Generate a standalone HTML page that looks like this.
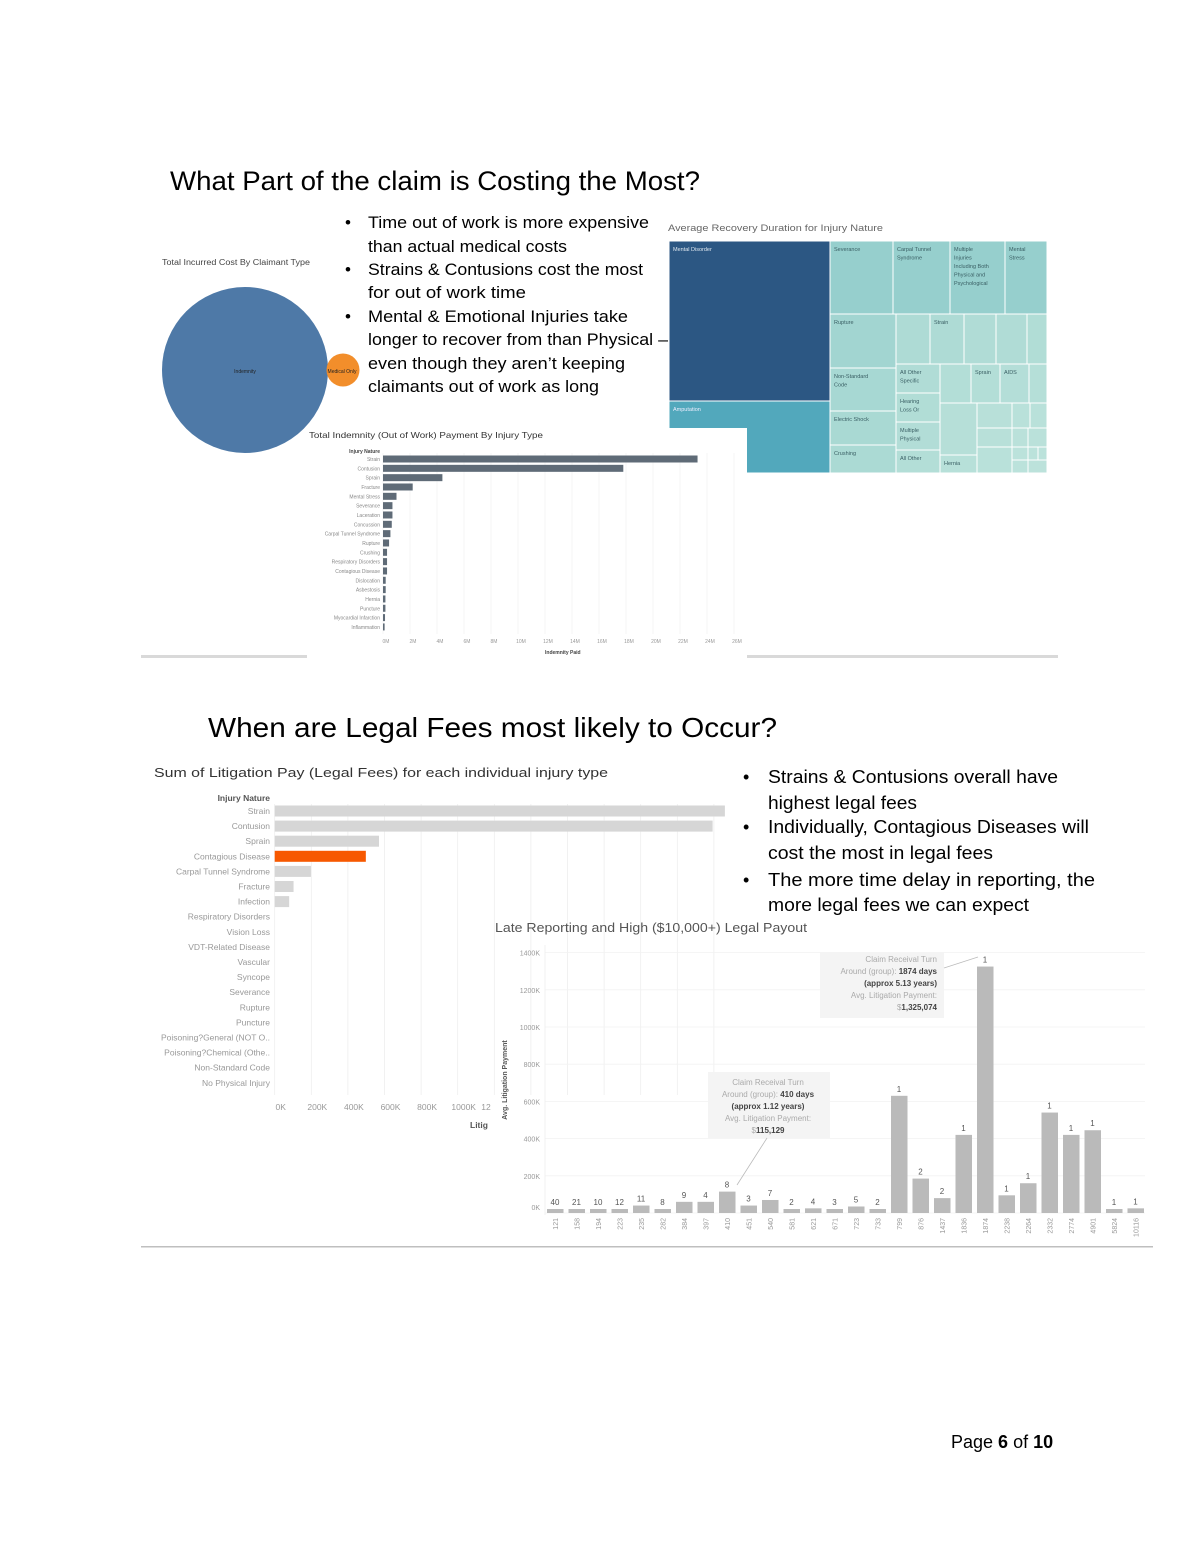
<!DOCTYPE html>
<html><head><meta charset="utf-8"><style>
html,body{margin:0;padding:0;background:#fff;}
svg{display:block;font-family:"Liberation Sans",sans-serif;}
</style></head><body>
<svg id="page" width="1199" height="1551" viewBox="0 0 1199 1551" xmlns="http://www.w3.org/2000/svg">
<rect width="1199" height="1551" fill="#fff"/>
<text x="170" y="190" font-size="27" fill="#000" textLength="530" lengthAdjust="spacingAndGlyphs">What Part of the claim is Costing the Most?</text>
<g font-size="17" fill="#000">
<text x="345" y="228">•</text><text x="368" y="228" textLength="281" lengthAdjust="spacingAndGlyphs">Time out of work is more expensive</text>
<text x="368" y="252" textLength="199" lengthAdjust="spacingAndGlyphs">than actual medical costs</text>
<text x="345" y="275">•</text><text x="368" y="275" textLength="275" lengthAdjust="spacingAndGlyphs">Strains &amp; Contusions cost the most</text>
<text x="368" y="298" textLength="158" lengthAdjust="spacingAndGlyphs">for out of work time</text>
<text x="345" y="322">•</text><text x="368" y="322" textLength="260" lengthAdjust="spacingAndGlyphs">Mental &amp; Emotional Injuries take</text>
<text x="368" y="345" textLength="300" lengthAdjust="spacingAndGlyphs">longer to recover from than Physical –</text>
<text x="368" y="369" textLength="257" lengthAdjust="spacingAndGlyphs">even though they aren’t keeping</text>
<text x="368" y="392" textLength="231" lengthAdjust="spacingAndGlyphs">claimants out of work as long</text>
</g>
<g>
<text x="162" y="265" font-size="8" fill="#444" textLength="148" lengthAdjust="spacingAndGlyphs">Total Incurred Cost By Claimant Type</text>
<circle cx="245" cy="370" r="83" fill="#4e79a7"/>
<circle cx="343" cy="370" r="16.5" fill="#f28e2b"/>
<text x="245" y="373" font-size="5" fill="#222" text-anchor="middle">Indemnity</text>
<text x="342" y="373" font-size="5" fill="#222" text-anchor="middle">Medical Only</text>
</g>
<g>
<text x="668" y="231" font-size="9.5" fill="#666" textLength="215" lengthAdjust="spacingAndGlyphs">Average Recovery Duration for Injury Nature</text>
<g id="tm" stroke="#fff" stroke-width="1" font-size="5.5"></g>
</g>
<g>
<rect x="307" y="428" width="440" height="232" fill="#fff"/>
<text x="309" y="438" font-size="8.5" fill="#333" textLength="234" lengthAdjust="spacingAndGlyphs">Total Indemnity (Out of Work) Payment By Injury Type</text>
<text x="380" y="453" font-size="5" fill="#444" text-anchor="end" font-weight="bold">Injury Nature</text>
<g id="ind"></g>
<text x="545" y="654" font-size="5" fill="#444" font-weight="bold">Indemnity Paid</text>
</g>
<rect x="141" y="655" width="166" height="3" fill="#d9d9d9"/>
<rect x="747" y="655" width="311" height="3" fill="#d9d9d9"/>
<text x="208" y="737" font-size="28" fill="#000" textLength="569" lengthAdjust="spacingAndGlyphs">When are Legal Fees most likely to Occur?</text>
<g font-size="18" fill="#000">
<text x="743" y="783">•</text><text x="768" y="783" textLength="290" lengthAdjust="spacingAndGlyphs">Strains &amp; Contusions overall have</text>
<text x="768" y="809" textLength="149" lengthAdjust="spacingAndGlyphs">highest legal fees</text>
<text x="743" y="833">•</text><text x="768" y="833" textLength="321" lengthAdjust="spacingAndGlyphs">Individually, Contagious Diseases will</text>
<text x="768" y="859" textLength="225" lengthAdjust="spacingAndGlyphs">cost the most in legal fees</text>
<text x="743" y="886">•</text><text x="768" y="886" textLength="327" lengthAdjust="spacingAndGlyphs">The more time delay in reporting, the</text>
<text x="768" y="911" textLength="261" lengthAdjust="spacingAndGlyphs">more legal fees we can expect</text>
</g>
<g>
<text x="154" y="777" font-size="13" fill="#333" textLength="454" lengthAdjust="spacingAndGlyphs">Sum of Litigation Pay (Legal Fees) for each individual injury type</text>
<text x="270" y="801" font-size="8.5" fill="#555" font-weight="bold" text-anchor="end">Injury Nature</text>
<g id="lit"></g>
<text x="470" y="1128" font-size="8.5" fill="#555" font-weight="bold">Litig</text>
</g>
<g>
<text x="495" y="932" font-size="13" fill="#555" textLength="312" lengthAdjust="spacingAndGlyphs">Late Reporting and High ($10,000+) Legal Payout</text>
<text transform="translate(507,1080) rotate(-90)" font-size="7" fill="#555" font-weight="bold" text-anchor="middle">Avg. Litigation Payment</text>
<g id="late"></g>
<g>
<rect x="820" y="952" width="124" height="66" fill="#f4f4f4"/>
<line x1="944" y1="968" x2="978" y2="957" stroke="#bbb" stroke-width="0.8"/>
<g font-size="8" text-anchor="end">
<text x="937" y="962" fill="#aaa">Claim Receival Turn</text>
<text x="937" y="974" fill="#aaa">Around (group): <tspan fill="#444" font-weight="bold">1874 days</tspan></text>
<text x="937" y="986" fill="#444" font-weight="bold">(approx 5.13 years)</text>
<text x="937" y="998" fill="#aaa">Avg. Litigation Payment:</text>
<text x="937" y="1010" fill="#444" font-weight="bold"><tspan fill="#aaa" font-weight="normal">$</tspan>1,325,074</text>
</g></g>
<g>
<rect x="708" y="1072" width="122" height="66" fill="#f4f4f4"/>
<line x1="767" y1="1138" x2="737" y2="1185" stroke="#bbb" stroke-width="0.8"/>
<g font-size="8" text-anchor="middle">
<text x="768" y="1085" fill="#aaa">Claim Receival Turn</text>
<text x="768" y="1097" fill="#aaa">Around (group): <tspan fill="#444" font-weight="bold">410 days</tspan></text>
<text x="768" y="1109" fill="#444" font-weight="bold">(approx 1.12 years)</text>
<text x="768" y="1121" fill="#aaa">Avg. Litigation Payment:</text>
<text x="768" y="1133" fill="#444" font-weight="bold"><tspan fill="#aaa" font-weight="normal">$</tspan>115,129</text>
</g></g>
</g>
<rect x="141" y="1246" width="1012" height="1.5" fill="#bfbfbf"/>
<text x="951" y="1448" font-size="18" fill="#000">Page <tspan font-weight="bold">6</tspan> of <tspan font-weight="bold">10</tspan></text>
</svg>
<script>
const indCats = ["Strain","Contusion","Sprain","Fracture","Mental Stress","Severance","Laceration","Concussion","Carpal Tunnel Syndrome","Rupture","Crushing","Respiratory Disorders","Contagious Disease","Dislocation","Asbestosis","Hernia","Puncture","Myocardial Infarction","Inflammation"];
const indVals = [23.3,17.8,4.4,2.2,1.0,0.7,0.7,0.65,0.55,0.45,0.3,0.3,0.3,0.2,0.2,0.18,0.18,0.15,0.12];
const indTicks = [0,2,4,6,8,10,12,14,16,18,20,22,24,26];
const litCats = ["Strain","Contusion","Sprain","Contagious Disease","Carpal Tunnel Syndrome","Fracture","Infection","Respiratory Disorders","Vision Loss","VDT-Related Disease","Vascular","Syncope","Severance","Rupture","Puncture","Poisoning?General (NOT O..","Poisoning?Chemical (Othe..","Non-Standard Code","No Physical Injury"];
const litVals = [2460,2393,570,498,198,103,79,0,0,0,0,0,0,0,0,0,0,0,0];
const litTicks = [0,200,400,600,800,1000];
const lateCats = ["121","158","194","223","235","282","384","397","410","451","540","581","621","671","723","733","799","876","1437","1836","1874","2238","2264","2332","2774","4901","5824","10116"];
const lateVals = [15,20,15,20,40,15,60,60,115,40,70,15,25,15,35,10,630,185,80,420,1325,95,160,540,420,445,15,25];
const lateCounts = [40,21,10,12,11,8,9,4,8,3,7,2,4,3,5,2,1,2,2,1,1,1,1,1,1,1,1,1];
const lateTicks = [0,200,400,600,800,1000,1200,1400];

const NS="http://www.w3.org/2000/svg";
function mk(tag,attrs,parent,text){const e=document.createElementNS(NS,tag);for(const k in attrs)e.setAttribute(k,attrs[k]);if(text!==undefined)e.textContent=text;parent.appendChild(e);return e;}

(function(){
  const g=document.getElementById('ind');
  const x=v=>383+v*13.5, y=i=>459+i*9.33;
  indTicks.forEach(t=>{
    const l=mk('line',{x1:x(t),x2:x(t),y1:453,y2:634,stroke:'#f0f0f0','stroke-width':0.6},g);
    
    
    const tx=mk('text',{x:x(t)+3,y:643,'font-size':5,fill:'#999','text-anchor':'middle'},g,t+'M');
    
    
  });
  indCats.forEach((c,i)=>{
    const lb=mk('text',{x:380,y:y(i)+2,'font-size':5,fill:'#888','text-anchor':'end'},g,c);
    
    
    const b=mk('rect',{x:383,y:y(i)-3.5,width:Math.max(1.5,x(indVals[i])-383),height:7,fill:'#5f6b77'},g);
    
    
  });
})();

(function(){
  const g=document.getElementById('lit');
  const x=v=>274.7+v/200*36.6, y=i=>811+i*15.1;
  for(let k=0;k<13;k++){const l=mk('line',{x1:x(k*200),x2:x(k*200),y1:804,y2:1095,stroke:'#eee','stroke-width':0.8},g);
    
    }
  litTicks.forEach(t=>{
    const tx=mk('text',{x:x(t)+6,y:1110,'font-size':8.5,fill:'#999','text-anchor':'middle'},g,t+'K');
    
    
  });
  mk('text',{x:486,y:1110,'font-size':8.5,fill:'#999','text-anchor':'middle'},g,'12');
  litCats.forEach((c,i)=>{
    const lb=mk('text',{x:270,y:y(i)+3,'font-size':8.5,fill:'#999','text-anchor':'end'},g,c);
    
    
    if(litVals[i]>0){
      const b=mk('rect',{x:274.7,y:y(i)-5.5,width:x(litVals[i])-274.7,height:11,fill:c==='Contagious Disease'?'#f75800':'#d6d6d6'},g);
      
      
    }
  });
})();

(function(){
  const g=document.getElementById('late');
  const y=v=>1213-v/200*37.2, x=i=>555+i*21.5;
  lateTicks.forEach(t=>{
    const l=mk('line',{x1:545,x2:1145,y1:y(t),y2:y(t),stroke:'#f2f2f2','stroke-width':0.8},g);
    
    
    const tx=mk('text',{x:540,y:t===0?1210:y(t)+3,'font-size':7,fill:'#999','text-anchor':'end'},g,t+'K');
    
    
  });
  mk('line',{x1:545,x2:545,y1:945,y2:1215,stroke:'#eee','stroke-width':0.8},g);
  lateCats.forEach((c,i)=>{
    const h=Math.max(4,1213-y(lateVals[i]));
    const b=mk('rect',{x:x(i)-8,y:1213-h,width:16.5,height:h,fill:'#bababa'},g);
    
    
    const cl=mk('text',{x:x(i),y:1213-h-4,'font-size':8,fill:'#555','text-anchor':'middle'},g,lateCounts[i]);
    
    
    const lb=mk('text',{transform:`translate(${x(i)+3},1218) rotate(-90)`,'font-size':7,fill:'#999','text-anchor':'end'},g,c);
    
    
  });
})();

(function(){
  const g=document.getElementById('tm');
  const cells=[
    [669,241,161,160,'#2c5783','Mental Disorder','#dfe8f0'],
    [669,401,161,72,'#52a8bc','Amputation','#eef'],
    [830,241,63,73,'#96cfcd','Severance'],[893,241,57,73,'#96cfcd','Carpal Tunnel|Syndrome'],
    [950,241,55,73,'#96cfcd','Multiple|Injuries|Including Both|Physical and|Psychological'],[1005,241,42,73,'#96cfcd','Mental|Stress'],
    [830,314,66,54,'#a2d5d1','Rupture'],[830,368,66,43,'#a7d8d3','Non-Standard|Code'],
    [830,411,66,34,'#a9d9d3','Electric Shock'],[830,445,66,28,'#abdad4','Crushing'],
    [896,314,34,50,'#aedbd5',''],[930,314,34,50,'#aedbd5','Strain'],[964,314,32,50,'#b0dcd6',''],
    [996,314,31,50,'#b0dcd6',''],[1027,314,20,50,'#b1ddd6',''],
    [896,364,44,29,'#b0dcd6','All Other|Specific'],[896,393,44,29,'#b1ddd6','Hearing|Loss Or'],
    [896,422,44,28,'#b2ddd7','Multiple|Physical'],[896,450,44,23,'#b3ded7','All Other'],
    [940,364,31,39,'#b3ded7',''],[971,364,29,39,'#b3ded7','Sprain'],[1000,364,29,39,'#b4ded8','AIDS'],[1029,364,18,39,'#b5dfd8',''],
    [940,403,37,52,'#b6dfd8',''],[940,455,37,18,'#b7e0d9','Hernia'],
    [977,403,35,25,'#b8e0d9',''],[977,428,35,19,'#b8e0d9',''],[977,447,35,26,'#b9e1da',''],
    [1012,403,18,25,'#b9e1da',''],[1030,403,17,25,'#b9e1da',''],
    [1012,428,16,19,'#bae1da',''],[1028,428,19,19,'#bae1da',''],
    [1012,447,16,13,'#bbe2db',''],[1028,447,10,13,'#bbe2db',''],[1038,447,9,13,'#bbe2db',''],
    [1012,460,16,13,'#bbe2db',''],[1028,460,19,13,'#bce2db','']
  ];
  cells.forEach(c=>{
    const r=mk('rect',{x:c[0],y:c[1],width:c[2],height:c[3],fill:c[4]},g);
    
    
    if(c[5]){c[5].split('|').forEach((ln,k)=>{
      const t=mk('text',{x:c[0]+4,y:c[1]+10+k*8.5,fill:c[6]||'#3a5f64',stroke:'none'},g,ln);
      
      
    });}
  });
})();
</script>
</body></html>
